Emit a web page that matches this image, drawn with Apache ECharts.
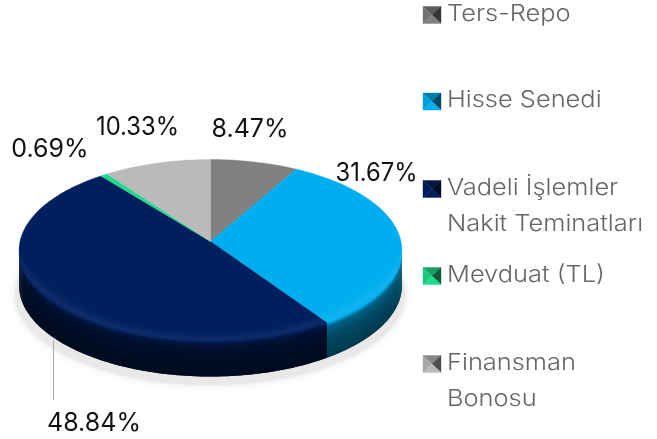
<!DOCTYPE html>
<html><head><meta charset="utf-8">
<style>html,body{margin:0;padding:0;background:#fff}#c{width:657px;height:439px}</style>
<script src="https://cdn.jsdelivr.net/npm/echarts@6/dist/echarts.min.js"></script>
</head><body><div id="c"></div>
<script>
// ---- data ----
const categories = ['Ters-Repo', 'Hisse Senedi', 'Vadeli İşlemler\nNakit Teminatları', 'Mevduat (TL)', 'Finansman\nBonosu'];
const values = [8.47, 31.67, 48.84, 0.69, 10.33];
const valueLabels = ['8.47%', '31.67%', '48.84%', '0.69%', '10.33%'];
const colors = ['#808080', '#00AEEF', '#001F5F', '#1FDC8C', '#BABABA'];

// ---- layout ----
const apex = {x: 210.5, y: 241.5}, RX = 190.5, RY = 90.1, K = 0.099, DEPTH = 35, WARP = 1.4;
const labelPos = [[250, 129], [376.5, 173], [94, 423], [50, 149], [137.5, 127]];
const labelScaleX = [1, 0.95, 1, 1, 0.95];
const legendY = [15, 101.5, 189, 276, 364];
const LEG_X = 423, LEG_W = 18, LEG_H = 17, LEG_TX = 447, LINE_H = 36, LEG_SX = 1.105;
const FONT = 'Inter, "Noto Sans", sans-serif';

const total = values.reduce((a, b) => a + b, 0);
function project(deg) {
  const w = deg - WARP * Math.sin(2 * deg * Math.PI / 180);
  const a = w * Math.PI / 180, u = Math.sin(a), v = -Math.cos(a), d = 1 - K * v;
  return [apex.x + RX * u / d, apex.y + RY * v / d, v];
}
function arc(a0, a1, step) {
  const n = Math.max(2, Math.ceil(Math.abs(a1 - a0) / (step || 1.5))), pts = [];
  for (let i = 0; i <= n; i++) pts.push(project(a0 + (a1 - a0) * i / n));
  return pts;
}
function mix(hex, f, w) { // f darkens, w moves towards white
  const n = parseInt(hex.slice(1), 16);
  const c = [n >> 16, (n >> 8) & 255, n & 255].map(x => Math.round(x * f + (255 - x * f) * w));
  return 'rgb(' + c.join(',') + ')';
}
// wall shade stops by depth (0 = rim, 1 = bottom edge)
const wallStops = [[0, 0.95], [0.12, 0.55], [0.4, 0.42], [1, 0.32]];
// rim highlight just inside the top face's front edge (px inset, white amount)
const rimGlow = [[9, 7, 0.012], [7, 5, 0.03], [5, 3, 0.05], [3, 1.5, 0.07], [1.5, 0, 0.035]];
function renderItem(params, api) {
  const i = params.dataIndex, val = api.value(0), color = colors[i];
  let start = 0;
  for (let j = 0; j < i; j++) start += values[j];
  const a0 = start / total * 360, a1 = (start + val) / total * 360;
  const kids = [];
  const top = arc(a0, a1).map(p => [p[0], p[1]]);
  kids.push({type: 'polygon', z2: 20, shape: {points: [[apex.x, apex.y]].concat(top)},
    style: {fill: color, stroke: color, lineWidth: 0.4}});
  // front wall, only between the outline's tangent points
  const tA = Math.acos(-K) * 180 / Math.PI, tB = 360 - tA;
  const w0 = Math.max(a0, tA), w1 = Math.min(a1, tB);
  if (w1 > w0) {
    const rim = arc(w0, w1);
    const fine = arc(w0, w1, 0.6);
    const stops = wallStops.map(s => ({offset: s[0], color: mix(color, s[1], 0)}));
    for (let n = 0; n < fine.length - 1; n++) {
      const p = fine[n], q = fine[Math.min(n + 2, fine.length - 1)], m = fine[n + 1];
      const y = m[1];
      kids.push({type: 'polygon', z2: 10 + n * 0.001,
        shape: {points: [[p[0], p[1]], [q[0], q[1]], [q[0], q[1] + DEPTH], [p[0], p[1] + DEPTH]]},
        style: {fill: new echarts.graphic.LinearGradient(0, y, 0, y + DEPTH, stops, true)}});
    }
    // inset towards the apex so the slice boundaries stay exact
    const inset = (p, e) => {
      const amt = e * Math.max(0, Math.min(1, (p[2] - K) / 0.5)) / 100;
      return [p[0] + (apex.x - p[0]) * amt, p[1] + (apex.y - p[1]) * amt];
    };
    rimGlow.forEach(function (g, n) {
      const fill = mix(color, 1, g[2]);
      kids.push({type: 'polygon', z2: 30 + n,
        shape: {points: rim.map(p => inset(p, g[0])).concat(rim.map(p => inset(p, g[1])).reverse())},
        style: {fill: fill}});
    });
  }
  // value label
  kids.push({type: 'text', z2: 60, x: labelPos[i][0], y: labelPos[i][1], scaleX: labelScaleX[i],
    style: {text: valueLabels[i], fontFamily: FONT, fontSize: 25, fontWeight: 400, fill: '#111', align: 'center', verticalAlign: 'middle'}});
  if (i === 2) {
    kids.push({type: 'line', z2: 5, shape: {x1: 53.5, y1: 341, x2: 53.5, y2: 400}, style: {stroke: '#aaa', lineWidth: 1}});
  }
  // legend entry: bevelled square and text
  const x0 = LEG_X, x1 = LEG_X + LEG_W, yy = legendY[i] - LEG_H / 2, y1 = yy + LEG_H;
  const mx = (x0 + x1) / 2, my = (yy + y1) / 2;
  [[[[x0, yy], [x1, yy], [mx, my]], 0.72], [[[x0, yy], [x0, y1], [mx, my]], 0.9],
   [[[x1, yy], [x1, y1], [mx, my]], 0.42], [[[x0, y1], [x1, y1], [mx, my]], 1.0]].forEach(function (t) {
    kids.push({type: 'polygon', z2: 50, shape: {points: t[0]}, style: {fill: mix(color, t[1], 0), stroke: mix(color, t[1], 0), lineWidth: 0.4}});
  });
  categories[i].split('\n').forEach(function (line, n) {
    kids.push({type: 'text', z2: 60, x: LEG_TX, y: legendY[i] - 1 + n * LINE_H, scaleX: LEG_SX,
      style: {text: line, fontFamily: FONT, fontSize: 23, fontWeight: 300, fill: '#666', align: 'left', verticalAlign: 'middle'}});
  });
  return {type: 'group', children: kids};
}
const chart = echarts.init(document.getElementById('c'), null, {renderer: 'canvas'});
chart.setOption({
  animation: false,
  backgroundColor: '#fff',
  graphic: [{type: 'ellipse', z: 0, silent: true, shape: {cx: 210, cy: 294, rx: 195, ry: 91},
    style: {fill: 'rgba(232,232,232,0.9)', shadowBlur: 7, shadowColor: 'rgba(215,215,215,0.8)'}}],
  series: [{
    type: 'custom', coordinateSystem: 'none', name: 'Dağılım', z: 2, silent: true,
    data: categories.map((c, i) => ({name: c, value: [values[i]]})),
    renderItem: renderItem
  }]
});
</script></body></html>
